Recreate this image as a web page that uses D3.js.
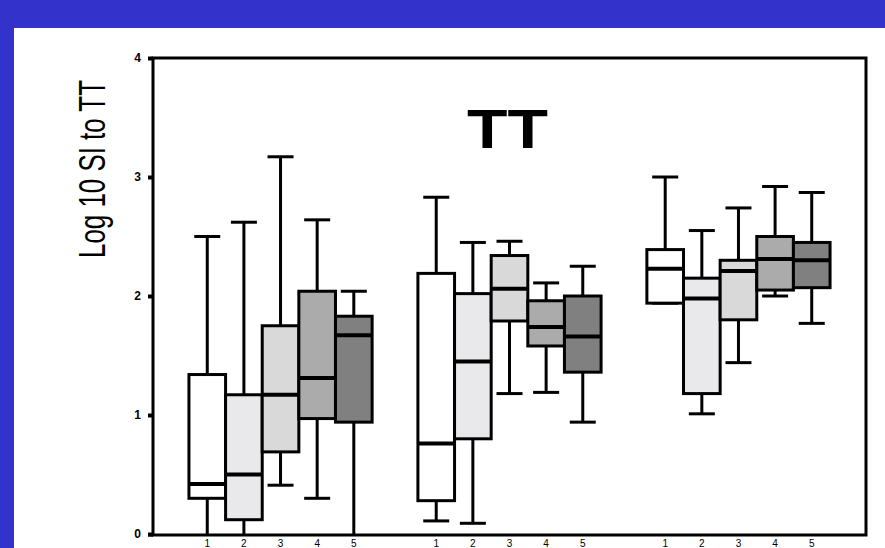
<!DOCTYPE html>
<html><head><meta charset="utf-8">
<script src="https://cdn.jsdelivr.net/npm/d3@7"></script>
<style>html,body{margin:0;padding:0;background:#fff;overflow:hidden}</style>
</head><body><svg id="chart" width="885" height="548"></svg>
<script>
// Box plot data: three groups of five time points each (log10 SI to TT)
const groups = ["A", "B", "C"];
const series = ["1", "2", "3", "4", "5"];
const seriesColors = ["#ffffff", "#e9e9ec", "#d9d9d9", "#ababab", "#808080"];
const yTicks = [0, 1, 2, 3, 4];
const whiskerHigh   = [[2.50, 2.62, 3.17, 2.64, 2.04], [2.83, 2.45, 2.46, 2.11, 2.25], [3.00, 2.55, 2.74, 2.92, 2.87]];
const upperQuartile = [[1.34, 1.17, 1.75, 2.04, 1.83], [2.19, 2.02, 2.34, 1.96, 2.00], [2.39, 2.15, 2.30, 2.50, 2.45]];
const median        = [[0.42, 0.50, 1.17, 1.31, 1.67], [0.76, 1.45, 2.06, 1.74, 1.66], [2.23, 1.98, 2.21, 2.31, 2.30]];
const lowerQuartile = [[0.30, 0.12, 0.69, 0.97, 0.94], [0.28, 0.80, 1.79, 1.58, 1.36], [1.94, 1.18, 1.80, 2.05, 2.07]];
const whiskerLow    = [[-0.3, -0.3, 0.41, 0.30, -0.3], [0.11, 0.09, 1.18, 1.19, 0.94], [1.94, 1.01, 1.44, 2.00, 1.77]];

const svg = d3.select("#chart");
const W = 885, H = 548;
const plot = { left: 153, right: 866, top: 58, bottom: 535 };

// slide-style blue border
svg.append("rect").attr("x", 0).attr("y", 0).attr("width", W).attr("height", 28).attr("fill", "#3333cc");
svg.append("rect").attr("x", 0).attr("y", 0).attr("width", 14).attr("height", H).attr("fill", "#3333cc");

const y = d3.scaleLinear().domain([0, 4]).range([534, 58]);
const x = d3.scaleBand().domain(groups).range([plot.left, plot.right]).paddingInner(0.2).paddingOuter(0.157);
const xs = d3.scaleBand().domain(series).range([0, x.bandwidth()]);

const rows = [];
groups.forEach((g, gi) => series.forEach((s, si) => rows.push({
  g, s, si,
  hi: whiskerHigh[gi][si], q3: upperQuartile[gi][si], med: median[gi][si],
  q1: lowerQuartile[gi][si], lo: whiskerLow[gi][si]
})));

svg.append("clipPath").attr("id", "plotClip").append("rect")
  .attr("x", plot.left).attr("y", plot.top).attr("width", plot.right - plot.left).attr("height", plot.bottom - plot.top);

const marks = svg.append("g").attr("clip-path", "url(#plotClip)");
const cx = d => x(d.g) + xs(d.s) + xs.bandwidth() / 2;
const capW = 26;

// whisker stems
marks.selectAll("line.stem").data(rows).join("line").attr("class", "stem")
  .attr("x1", cx).attr("x2", cx).attr("y1", d => y(d.hi)).attr("y2", d => y(d.lo))
  .attr("stroke", "#000").attr("stroke-width", 3);
// whisker caps
["hi", "lo"].forEach(k => {
  marks.selectAll("line.cap-" + k).data(rows).join("line").attr("class", "cap-" + k)
    .attr("x1", d => cx(d) - capW / 2).attr("x2", d => cx(d) + capW / 2)
    .attr("y1", d => y(d[k])).attr("y2", d => y(d[k]))
    .attr("stroke", "#000").attr("stroke-width", 3);
});
// boxes
marks.selectAll("rect.box").data(rows).join("rect").attr("class", "box")
  .attr("x", d => x(d.g) + xs(d.s)).attr("width", xs.bandwidth())
  .attr("y", d => y(d.q3)).attr("height", d => y(d.q1) - y(d.q3))
  .attr("fill", d => seriesColors[d.si]).attr("stroke", "#000").attr("stroke-width", 3);
// medians
marks.selectAll("line.med").data(rows).join("line").attr("class", "med")
  .attr("x1", d => x(d.g) + xs(d.s)).attr("x2", d => x(d.g) + xs(d.s) + xs.bandwidth())
  .attr("y1", d => y(d.med)).attr("y2", d => y(d.med))
  .attr("stroke", "#000").attr("stroke-width", 4);

// frame
svg.append("rect").attr("x", plot.left).attr("y", plot.top)
  .attr("width", plot.right - plot.left).attr("height", plot.bottom - plot.top)
  .attr("fill", "none").attr("stroke", "#000").attr("stroke-width", 3);
svg.append("line").attr("x1", 148).attr("x2", plot.left).attr("y1", plot.bottom).attr("y2", plot.bottom)
  .attr("stroke", "#000").attr("stroke-width", 3);

// y axis
const yAxis = svg.append("g").attr("transform", `translate(${plot.left},0)`)
  .call(d3.axisLeft(y).tickValues(yTicks).tickSize(5).tickPadding(7).tickFormat(d3.format("d")));
yAxis.select(".domain").remove();
yAxis.selectAll(".tick line").attr("stroke", "#000").attr("stroke-width", 4);
yAxis.selectAll(".tick text").attr("fill", "#000").style("font-family", "Arial, 'Liberation Sans', sans-serif")
  .style("font-size", "12px").style("font-weight", "bold");

// x tick labels (just under the frame)
svg.append("g").selectAll("text").data(rows).join("text")
  .attr("x", cx).attr("y", 547).attr("text-anchor", "middle")
  .style("font-family", "Arial, 'Liberation Sans', sans-serif").style("font-size", "10px")
  .text(d => d.s);

// y axis title
svg.append("text").attr("transform", "translate(105,169) rotate(-90)")
  .attr("text-anchor", "middle").attr("textLength", 178).attr("lengthAdjust", "spacingAndGlyphs")
  .style("font-family", "Arial, 'Liberation Sans', sans-serif").style("font-size", "36px")
  .text("Log 10 SI to TT");

// chart title
svg.append("text").attr("x", 467).attr("y", 148)
  .attr("textLength", 81).attr("lengthAdjust", "spacingAndGlyphs")
  .style("font-family", "Arial, 'Liberation Sans', sans-serif").style("font-size", "55px").style("font-weight", "bold")
  .text("TT");
</script></body></html>
